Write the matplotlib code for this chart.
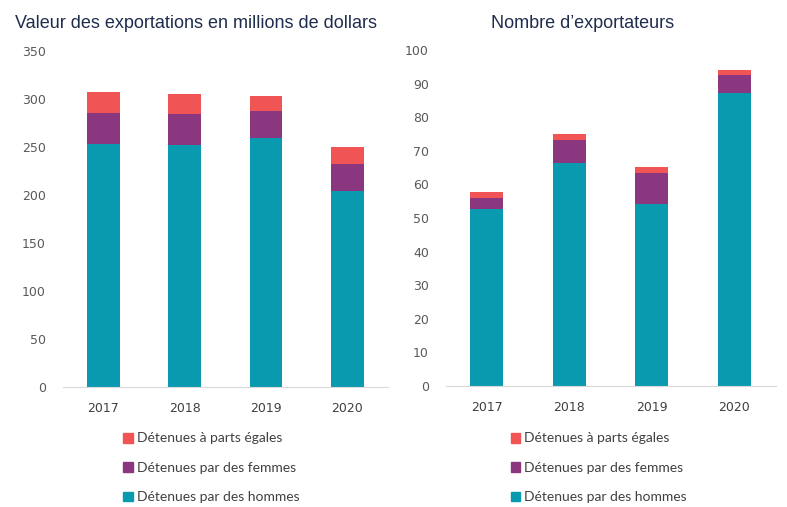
import numpy as np
import matplotlib.pyplot as plt
from matplotlib.patches import Patch

years = ['2017', '2018', '2019', '2020']
valeur_hommes = [253, 252, 259, 204]
valeur_femmes = [32, 32, 28, 28]
valeur_egales = [22, 21, 16, 18]
nombre_hommes = [52.7, 66.4, 54.3, 87.3]
nombre_femmes = [3.3, 6.8, 9.1, 5.3]
nombre_egales = [1.7, 1.8, 1.8, 1.4]
labels = ['Détenues par des hommes', 'Détenues par des femmes', 'Détenues à parts égales']
colors = ['#0A9AB0', '#8A3780', '#F05454']

W, H = 787, 507
fig = plt.figure(figsize=(W / 100, H / 100), dpi=100)
ax1 = fig.add_axes([62.7 / W, (H - 387) / H, 325.3 / W, 336.3 / H])
ax2 = fig.add_axes([445.7 / W, (H - 386) / H, 330 / W, 336 / H])

def draw(ax, series, ymax, step):
    x = np.arange(len(years))
    bottom = np.zeros(len(years))
    for vals, c in zip(series, colors):
        ax.bar(x, vals, 0.4, bottom=bottom, color=c)
        bottom += np.array(vals)
    ax.set_xlim(-0.5, len(years) - 0.5)
    ax.set_ylim(0, ymax)
    ax.set_yticks(np.arange(0, ymax + 1, step))
    ax.set_xticks(x)
    ax.set_xticklabels(years)
    for s in ['top', 'right', 'left']:
        ax.spines[s].set_visible(False)
    ax.spines['bottom'].set_color('#d9d9d9')
    ax.tick_params(length=0, labelsize=9, colors='#595959', pad=12)
    ax.tick_params(axis='x', pad=11, colors='#404040')

draw(ax1, [valeur_hommes, valeur_femmes, valeur_egales], 350, 50)
draw(ax2, [nombre_hommes, nombre_femmes, nombre_egales], 100, 10)

fig.text(196 / W, 1 - 23 / H, 'Valeur des exportations en millions de dollars',
         ha='center', va='center', fontsize=13, color='#1F2D4D', family='Liberation Sans')
fig.text(583 / W, 1 - 23 / H, 'Nombre d’exportateurs',
         ha='center', va='center', fontsize=13, color='#1F2D4D', family='Liberation Sans')

handles = [Patch(color=c) for c in colors][::-1]
for x0 in [111, 498]:
    fig.legend(handles, labels[::-1], loc='upper left', bbox_to_anchor=(x0 / W, 1 - 420 / H),
               frameon=False, handlelength=0.7, handleheight=0.7,
               handletextpad=0.3, labelspacing=1.25, labelcolor='#404040',
               prop={'family': 'Lato', 'size': 10})

plt.savefig('out.png', dpi=100)
